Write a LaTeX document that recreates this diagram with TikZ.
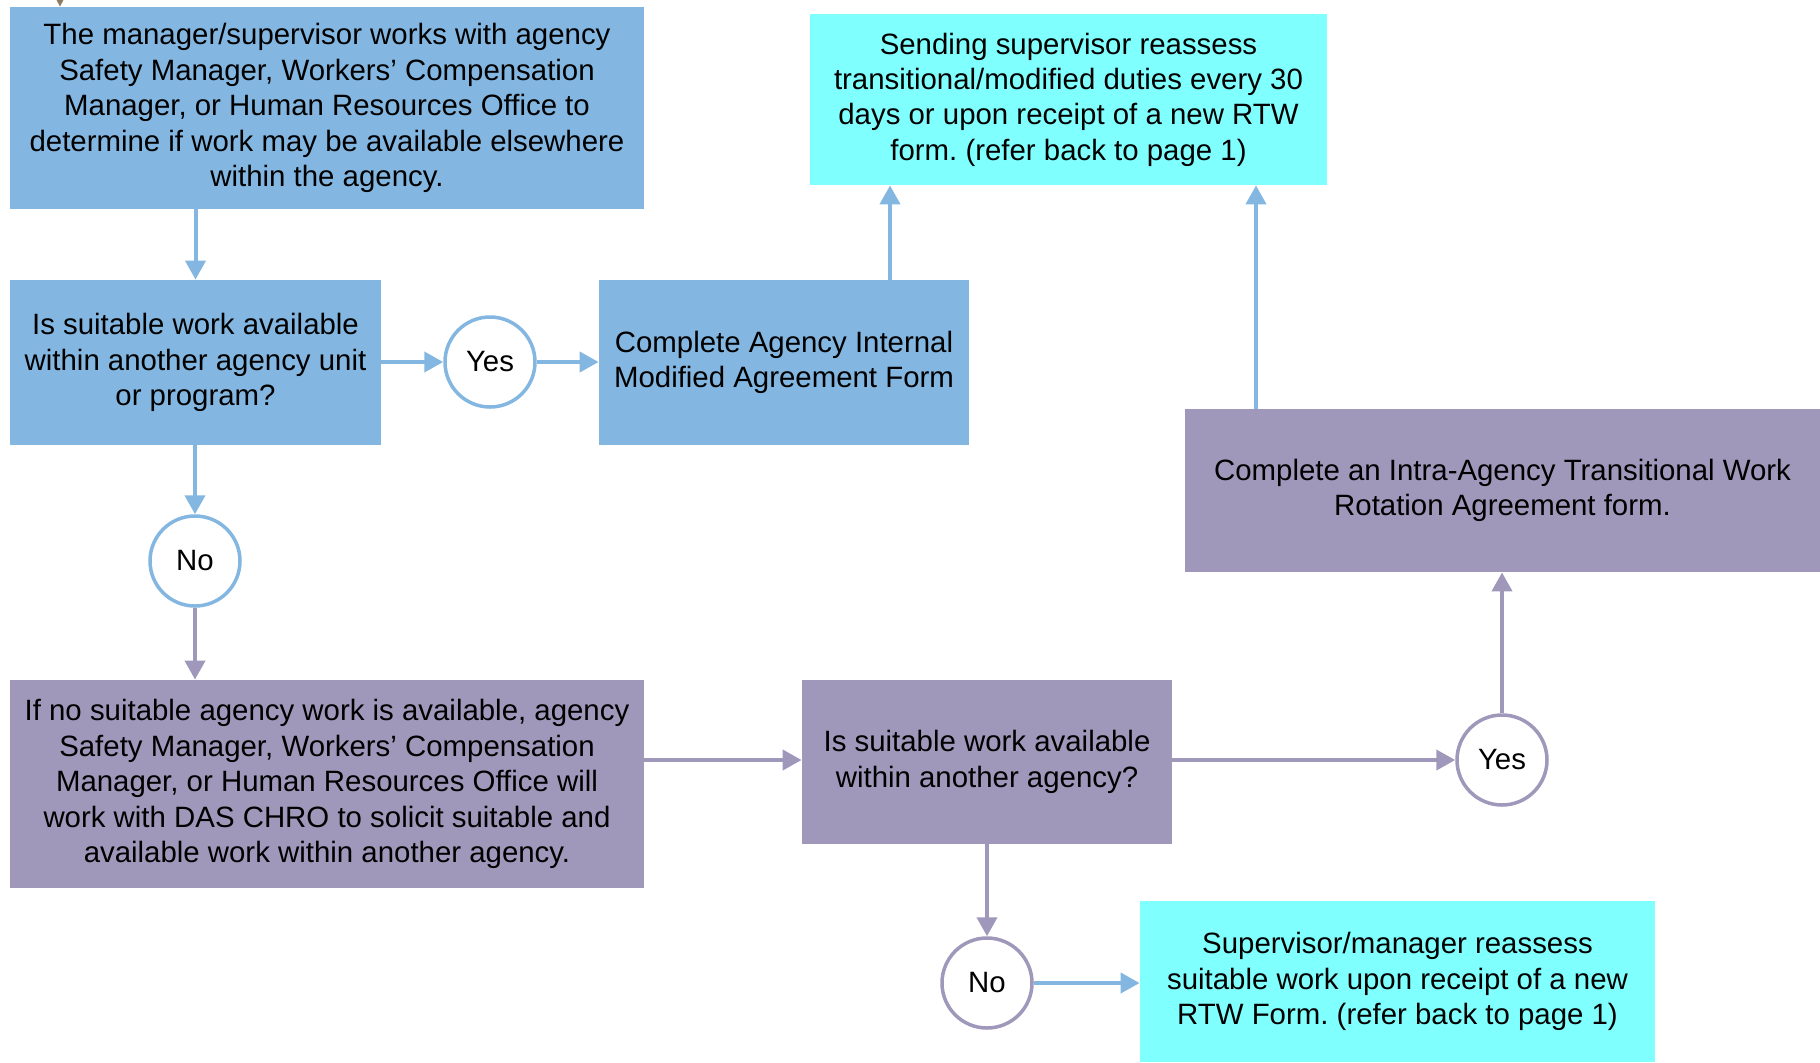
\documentclass[tikz,border=0pt]{standalone}
\usepackage{fontspec}
\setmainfont{Liberation Sans}
\usepackage{tikz}
\usetikzlibrary{shapes,arrows.meta,positioning}
\definecolor{flowblue}{RGB}{131,183,225}
\definecolor{flowpurple}{RGB}{159,152,187}
\definecolor{flowcyan}{RGB}{128,255,255}
\definecolor{flowbrown}{RGB}{140,125,95}
\frenchspacing

\begin{document}
\begin{tikzpicture}
      [x=0.5pt, y=-0.5pt,
      font=\fontsize{14.7}{17.7}\selectfont,
      box style/.style={rectangle, align=center, inner sep=0pt},
      blue box/.style={box style, fill=flowblue},
      purple box/.style={box style, fill=flowpurple},
      cyan box/.style={box style, fill=flowcyan},
      blue circle/.style={circle, draw=flowblue, line width=1.75pt, fill=white, minimum size=45pt, inner sep=0pt},
      purple circle/.style={circle, draw=flowpurple, line width=1.75pt, fill=white, minimum size=45pt, inner sep=0pt},
      blue edge/.style={draw=flowblue, line width=2pt, -{Triangle[length=9.5pt,width=10pt]}, flowblue},
      purple edge/.style={draw=flowpurple, line width=2pt, -{Triangle[length=9.5pt,width=10pt]}, flowpurple}
      ]
      \useasboundingbox (0,0) rectangle (1820,1062);

      % first page side: work inside the agency
      \node[blue box, minimum width=317pt, minimum height=101pt] (findwork) at (327,108)
        {The manager/supervisor works with agency\\Safety Manager, Workers’ Compensation\\Manager, or Human Resources Office to\\determine if work may be available elsewhere\\within the agency.};
      \node[blue box, minimum width=185.5pt, minimum height=82.5pt] (unitq) at (195.5,362.5)
        {Is suitable work available\\within another agency unit\\or program?};
      \node[blue circle] (yesunit) at (490,362) {Yes};
      \node[blue box, minimum width=185pt, minimum height=82.5pt] (internal) at (784,362.5)
        {Complete Agency Internal\\Modified Agreement Form};
      \node[cyan box, minimum width=258.5pt, minimum height=85.5pt] (reassess) at (1068.5,99.5)
        {Sending supervisor reassess\\transitional/modified duties every 30\\days or upon receipt of a new RTW\\form. (refer back to page 1)};
      \node[blue circle] (nounit) at (195,561) {No};

      % other agencies
      \node[purple box, minimum width=317pt, minimum height=104pt] (solicit) at (327,784)
        {If no suitable agency work is available, agency\\Safety Manager, Workers’ Compensation\\Manager, or Human Resources Office will\\work with DAS CHRO to solicit suitable and\\available work within another agency.};
      \node[purple box, minimum width=185pt, minimum height=82pt] (dasq) at (987,762)
        {Is suitable work available\\within another agency?};
      \node[purple circle] (yesagency) at (1502,760) {Yes};
      \node[purple box, minimum width=317.5pt, minimum height=81.5pt] (rotation) at (1502.5,490.5)
        {Complete an Intra-Agency Transitional Work\\Rotation Agreement form.};
      \node[purple circle] (noagency) at (987,983) {No};
      \node[cyan box, minimum width=257.5pt, minimum height=80.5pt] (readjust) at (1397.5,981.5)
        {Supervisor/manager reassess\\suitable work upon receipt of a new\\RTW Form. (refer back to page 1)};

      \coordinate (frompage) at (60,-40);

      % connectors
      \draw[flowbrown, line width=1pt, -{Triangle[length=5pt,width=5pt]}] (frompage) -- (frompage |- findwork.north);
      \draw[blue edge] (unitq.north |- findwork.south) -- (unitq.north);
      \draw[blue edge] (unitq.east |- yesunit.west) -- (yesunit.west);
      \draw[blue edge] (yesunit.east) -- (yesunit.east -| internal.west);
      \draw[blue edge] ([xshift=53pt]internal.north) -- ([xshift=53pt]internal.north |- reassess.south);
      \draw[blue edge] ([xshift=-123.25pt]rotation.north) -- ([xshift=-123.25pt]rotation.north |- reassess.south);
      \draw[blue edge] (unitq.south -| nounit.north) -- (nounit.north);
      \draw[purple edge] (nounit.south) -- (nounit.south |- solicit.north);
      \draw[purple edge] (solicit.east |- yesagency.west) -- (yesagency.west -| dasq.west);
      \draw[purple edge] (dasq.east |- yesagency.west) -- (yesagency.west);
      \draw[purple edge] (yesagency.north) -- (yesagency.north |- rotation.south);
      \draw[purple edge] (dasq.south -| noagency.north) -- (noagency.north);
      \draw[blue edge] (noagency.east) -- (noagency.east -| readjust.west);
\end{tikzpicture}
\end{document}
